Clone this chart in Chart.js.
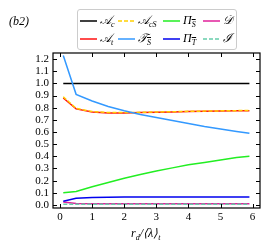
<!DOCTYPE html>
<html>
<head>
<meta charset="utf-8">
<script src="https://cdn.jsdelivr.net/npm/chart.js@4"></script>
<style>
    body { margin: 0; background: #fff; }
    #wrap { position: relative; width: 271px; height: 249px; font-family: 'Liberation Serif', serif; }
    #legend { position: absolute; left: 77px; top: 9px; width: 158px; height: 39px; border: 1px solid #ccc; border-radius: 3px; background: #fff; }
    .item { position: absolute; font-size: 12px; line-height: 13px; font-style: italic; white-space: nowrap; }
    .item svg { vertical-align: middle; margin-right: 3px; }
    .item sub { font-size: 8px; }
    .ov { text-decoration: overline; }
    #tag { position: absolute; left: 9px; top: 14px; font-size: 12px; font-style: italic; }
    #xtitle { position: absolute; left: 131px; top: 226px; font-size: 12px; font-style: italic; }
    #xtitle sub { font-size: 8px; }
</style>
</head>
<body>
<div id="wrap">
    <canvas id="chart" width="271" height="249"></canvas>
    <div id="tag">(b2)</div>
    <div id="legend"></div>
    <div id="xtitle">r<sub>d</sub>/⟨λ⟩<sub>t</sub></div>
</div>
<script>
// x values (r_d / <lambda>_t)
const xValues = [0.1, 0.5, 1.0, 1.5, 2.0, 2.5, 3.0, 3.5, 4.0, 4.5, 5.0, 5.5, 5.9];

const aC   = [1.0, 1.0, 1.0, 1.0, 1.0, 1.0, 1.0, 1.0, 1.0, 1.0, 1.0, 1.0, 1.0];
const aCS  = [0.89, 0.795, 0.768, 0.76, 0.76, 0.762, 0.765, 0.767, 0.77, 0.772, 0.774, 0.776, 0.777];
const piS  = [0.10, 0.11, 0.15, 0.185, 0.22, 0.25, 0.28, 0.305, 0.33, 0.35, 0.37, 0.39, 0.40];
const dVal = [0.025, 0.012, 0.01, 0.01, 0.01, 0.01, 0.01, 0.01, 0.01, 0.01, 0.01, 0.01, 0.01];
const aT   = [0.88, 0.79, 0.765, 0.757, 0.757, 0.76, 0.762, 0.765, 0.768, 0.77, 0.772, 0.774, 0.775];
const tS   = [1.23, 0.91, 0.855, 0.81, 0.775, 0.745, 0.72, 0.695, 0.67, 0.645, 0.625, 0.605, 0.59];
const piT  = [0.03, 0.055, 0.062, 0.064, 0.065, 0.065, 0.065, 0.065, 0.065, 0.065, 0.065, 0.065, 0.065];
const iVal = [0.005, 0.005, 0.005, 0.005, 0.005, 0.005, 0.005, 0.005, 0.005, 0.005, 0.005, 0.005, 0.005];

const xTicks = [0, 1, 2, 3, 4, 5, 6];
const yTicks = [0, 0.1, 0.2, 0.3, 0.4, 0.5, 0.6, 0.7, 0.8, 0.9, 1.0, 1.1, 1.2];

// legend order (row by row); z = draw order, higher is drawn on top
const series = [
    { label: '𝒜<sub>c</sub>', data: aC, color: '#000000', dash: [], z: 1 },
    { label: '𝒜<sub>cS</sub>', data: aCS, color: '#ffd000', dash: [4, 2], z: 3 },
    { label: 'Π<sub class="ov">S</sub>', data: piS, color: '#22ee22', dash: [], z: 4 },
    { label: '𝒟', data: dVal, color: '#e0209a', dash: [], z: 6 },
    { label: '𝒜<sub>t</sub>', data: aT, color: '#ff1010', dash: [], z: 2 },
    { label: '𝒯<sub class="ov">S</sub>', data: tS, color: '#3399ff', dash: [], z: 5 },
    { label: 'Π<sub class="ov">T</sub>', data: piT, color: '#0000ee', dash: [], z: 7 },
    { label: 'ℐ', data: iVal, color: '#66cdaa', dash: [4, 2], z: 8 }
];

const datasets = series.map(s => ({
    label: s.label,
    data: xValues.map((x, k) => ({ x: x, y: s.data[k] })),
    borderColor: s.color,
    borderDash: s.dash,
    borderWidth: 1.5,
    pointRadius: 0,
    fill: false,
    tension: 0,
    order: 10 - s.z   // chart.js draws lower order on top
}));

// legend, 4 columns x 2 rows
const colX = [2, 40, 85, 125];
const legend = document.getElementById('legend');
series.forEach((s, i) => {
    const el = document.createElement('div');
    el.className = 'item';
    el.style.left = colX[i % 4] + 'px';
    el.style.top = (i < 4 ? 4 : 22) + 'px';
    const dash = s.dash.length ? `stroke-dasharray="${s.dash.join(' ')}"` : '';
    el.innerHTML = `<svg width="17" height="4"><line x1="0" y1="2" x2="17" y2="2" stroke="${s.color}" stroke-width="1.5" ${dash}/></svg>${s.label}`;
    legend.appendChild(el);
});

// inward ticks on all four sides
const inwardTicks = {
    id: 'inwardTicks',
    afterDraw(chart) {
        const { ctx, chartArea: a, scales } = chart;
        ctx.save();
        ctx.strokeStyle = '#000';
        ctx.lineWidth = 1;
        xTicks.forEach(v => {
            const px = Math.round(scales.x.getPixelForValue(v)) + 0.5;
            ctx.beginPath();
            ctx.moveTo(px, a.bottom); ctx.lineTo(px, a.bottom - 4);
            ctx.moveTo(px, a.top); ctx.lineTo(px, a.top + 4);
            ctx.stroke();
        });
        yTicks.forEach(v => {
            const py = Math.round(scales.y.getPixelForValue(v)) + 0.5;
            ctx.beginPath();
            ctx.moveTo(a.left, py); ctx.lineTo(a.left + 4, py);
            ctx.moveTo(a.right, py); ctx.lineTo(a.right - 4, py);
            ctx.stroke();
        });
        ctx.lineWidth = 1.2;
        ctx.strokeRect(a.left, a.top, a.right - a.left, a.bottom - a.top);
        ctx.restore();
    }
};

new Chart(document.getElementById('chart').getContext('2d'), {
    type: 'line',
    data: { datasets: datasets },
    options: {
        responsive: false,
        animation: false,
        layout: { padding: { left: 0, right: 11, top: 53, bottom: 0 } },
        plugins: { legend: { display: false }, tooltip: { enabled: false } },
        scales: {
            x: {
                type: 'linear',
                min: -0.22,
                max: 6.23,
                afterBuildTicks: scale => { scale.ticks = xTicks.map(v => ({ value: v })); },
                afterFit: scale => { scale.height = 41; },
                grid: { display: false, drawTicks: false },
                border: { display: false },
                ticks: {
                    padding: 3,
                    autoSkip: false,
                    color: '#000',
                    maxRotation: 0,
                    font: { family: 'Liberation Serif', size: 11 },
                    callback: v => String(v)
                }
            },
            y: {
                type: 'linear',
                min: -0.025,
                max: 1.25,
                afterBuildTicks: scale => { scale.ticks = yTicks.map(v => ({ value: v })); },
                afterFit: scale => { scale.width = 53; },
                grid: { display: false, drawTicks: false },
                border: { display: false },
                ticks: {
                    padding: 4,
                    autoSkip: false,
                    color: '#000',
                    font: { family: 'Liberation Serif', size: 11 },
                    callback: v => v.toFixed(1)
                }
            }
        }
    },
    plugins: [inwardTicks]
});
</script>
</body>
</html>
